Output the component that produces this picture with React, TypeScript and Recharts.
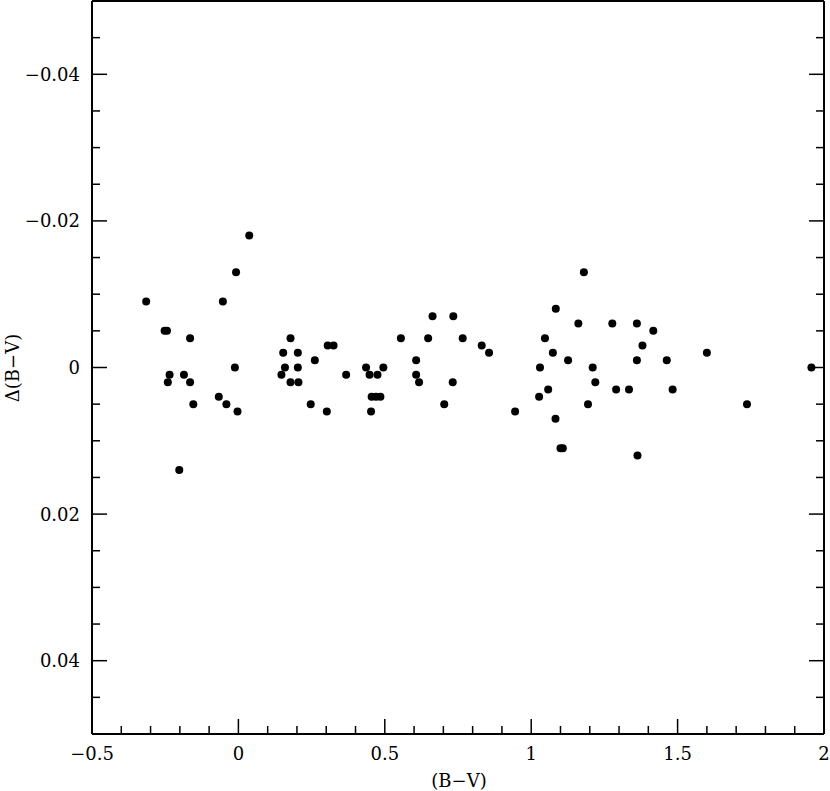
import React from 'react';
import { ScatterChart, Scatter, XAxis, YAxis } from 'recharts';

const bvColor: number[] = [
  -0.315, -0.252, -0.244, -0.165, -0.235, -0.241, -0.186, -0.165, -0.154, -0.202,
  0.037, -0.008, -0.053, -0.012, -0.067, -0.041, -0.003,
  0.178, 0.153, 0.203, 0.159, 0.203, 0.147, 0.178, 0.205, 0.247, 0.302, 0.261, 0.305, 0.325, 0.368,
  0.436, 0.495, 0.448, 0.475, 0.455, 0.47, 0.485, 0.453,
  0.555, 0.648, 0.663, 0.734, 0.766, 0.607, 0.607, 0.617, 0.732, 0.703, 0.831, 0.856, 0.945,
  1.18, 1.084, 1.161, 1.277, 1.361, 1.417, 1.047, 1.38, 1.074, 1.6, 1.126, 1.361, 1.463,
  1.03, 1.21, 1.957, 1.219, 1.058, 1.027, 1.29, 1.334, 1.483, 1.194, 1.737, 1.083, 1.1, 1.108, 1.363,
];

const deltaBV: number[] = [
  -0.009, -0.005, -0.005, -0.004, 0.001, 0.002, 0.001, 0.002, 0.005, 0.014,
  -0.018, -0.013, -0.009, 0, 0.004, 0.005, 0.006,
  -0.004, -0.002, -0.002, 0, 0, 0.001, 0.002, 0.002, 0.005, 0.006, -0.001, -0.003, -0.003, 0.001,
  0, 0, 0.001, 0.001, 0.004, 0.004, 0.004, 0.006,
  -0.004, -0.004, -0.007, -0.007, -0.004, -0.001, 0.001, 0.002, 0.002, 0.005, -0.003, -0.002, 0.006,
  -0.013, -0.008, -0.006, -0.006, -0.006, -0.005, -0.004, -0.003, -0.002, -0.002, -0.001, -0.001, -0.001,
  0, 0, 0, 0.002, 0.003, 0.004, 0.003, 0.003, 0.003, 0.005, 0.005, 0.007, 0.011, 0.011, 0.012,
];

const xTicks: number[] = [
  -0.5, -0.4, -0.3, -0.2, -0.1, 0, 0.1, 0.2, 0.3, 0.4, 0.5, 0.6, 0.7, 0.8, 0.9, 1,
  1.1, 1.2, 1.3, 1.4, 1.5, 1.6, 1.7, 1.8, 1.9, 2,
];
const xMajor: number[] = [-0.5, 0, 0.5, 1, 1.5, 2];

const yTicks: number[] = [
  -0.05, -0.045, -0.04, -0.035, -0.03, -0.025, -0.02, -0.015, -0.01, -0.005, 0,
  0.005, 0.01, 0.015, 0.02, 0.025, 0.03, 0.035, 0.04, 0.045, 0.05,
];
const yMajor: number[] = [-0.04, -0.02, 0, 0.02, 0.04];

const points = bvColor.map((x, i) => ({ x, y: deltaBV[i] }));

const FONT = '"DejaVu Serif", serif';
const MAJOR = 15;
const MINOR = 8;

const isMajor = (v: number, list: number[]) => list.some((m) => Math.abs(m - v) < 1e-9);
const fmt = (v: number) => (v < 0 ? '\u2212' + String(Math.abs(v)) : String(v));

const BottomTick = (props: any) => {
  const { x, y, payload } = props;
  const v = payload.value;
  const major = isMajor(v, xMajor);
  return (
    <g>
      <line x1={x} y1={y} x2={x} y2={y - (major ? MAJOR : MINOR)} stroke="#000" strokeWidth={1.5} />
      {major && (
        <text x={x} y={y + 26} textAnchor="middle" fontFamily={FONT} fontSize={18} fill="#000">
          {fmt(v)}
        </text>
      )}
    </g>
  );
};

const TopTick = (props: any) => {
  const { x, y, payload } = props;
  const major = isMajor(payload.value, xMajor);
  return <line x1={x} y1={y} x2={x} y2={y + (major ? MAJOR : MINOR)} stroke="#000" strokeWidth={1.5} />;
};

const LeftTick = (props: any) => {
  const { x, y, payload } = props;
  const v = payload.value;
  const major = isMajor(v, yMajor);
  return (
    <g>
      <line x1={x} y1={y} x2={x + (major ? MAJOR : MINOR)} y2={y} stroke="#000" strokeWidth={1.5} />
      {major && (
        <text x={x - 12} y={y + 6.5} textAnchor="end" fontFamily={FONT} fontSize={18} fill="#000">
          {fmt(v)}
        </text>
      )}
    </g>
  );
};

const RightTick = (props: any) => {
  const { x, y, payload } = props;
  const major = isMajor(payload.value, yMajor);
  return <line x1={x} y1={y} x2={x - (major ? MAJOR : MINOR)} y2={y} stroke="#000" strokeWidth={1.5} />;
};

const Dot = (props: any) => <circle cx={props.cx} cy={props.cy} r={4} fill="#000" />;

export default function App() {
  return (
    <div style={{ position: 'absolute', left: 0, top: 0, width: 830, height: 791, background: '#fff' }}>
      <ScatterChart width={830} height={791} margin={{ top: 0, right: 0, bottom: 0, left: 0 }}>
        <XAxis
          xAxisId="b"
          dataKey="x"
          type="number"
          orientation="bottom"
          domain={[-0.5, 2]}
          ticks={xTicks}
          interval={0}
          height={57}
          tickSize={0}
          tickMargin={0}
          tickLine={false}
          axisLine={{ stroke: '#000', strokeWidth: 2 }}
          tick={<BottomTick />}
          allowDataOverflow
          label={{
            content: () => (
              <text x={459} y={787} textAnchor="middle" fontFamily={FONT} fontSize={18} fill="#000">
                (B{'\u2212'}V)
              </text>
            ),
          }}
        />
        <XAxis
          xAxisId="t"
          type="number"
          orientation="top"
          domain={[-0.5, 2]}
          ticks={xTicks}
          interval={0}
          height={1}
          tickSize={0}
          tickMargin={0}
          tickLine={false}
          axisLine={{ stroke: '#000', strokeWidth: 2 }}
          tick={<TopTick />}
          allowDataOverflow
        />
        <YAxis
          yAxisId="l"
          dataKey="y"
          type="number"
          orientation="left"
          domain={[-0.05, 0.05]}
          reversed
          ticks={yTicks}
          interval={0}
          width={92}
          tickSize={0}
          tickMargin={0}
          tickLine={false}
          axisLine={{ stroke: '#000', strokeWidth: 2 }}
          tick={<LeftTick />}
          allowDataOverflow
          label={{
            content: () => (
              <text
                x={19}
                y={368}
                textAnchor="middle"
                fontFamily={FONT}
                fontSize={18}
                fill="#000"
                transform="rotate(-90 19 368)"
              >
                {'\u0394(B\u2212V)'}
              </text>
            ),
          }}
        />
        <YAxis
          yAxisId="r"
          type="number"
          orientation="right"
          domain={[-0.05, 0.05]}
          reversed
          ticks={yTicks}
          interval={0}
          width={6}
          tickSize={0}
          tickMargin={0}
          tickLine={false}
          axisLine={{ stroke: '#000', strokeWidth: 2 }}
          tick={<RightTick />}
          allowDataOverflow
        />
        <Scatter data={points} xAxisId="b" yAxisId="l" shape={<Dot />} isAnimationActive={false} />
      </ScatterChart>
    </div>
  );
}
